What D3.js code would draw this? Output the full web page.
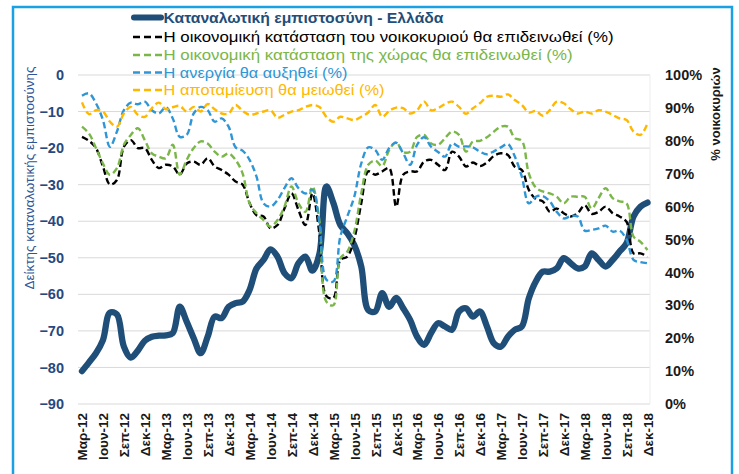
<!DOCTYPE html>
<html><head><meta charset="utf-8">
<script src="https://cdn.jsdelivr.net/npm/d3@7/dist/d3.min.js"></script>
<style>body{margin:0;background:#fff}svg{display:block}</style>
</head><body>
<svg id="chart" width="739" height="474"></svg>
<script>
// ---------- DATA ----------
const monthNames = ["Ιαν","Φεβ","Μαρ","Απρ","Μαϊ","Ιουν","Ιουλ","Αυγ","Σεπ","Οκτ","Νοε","Δεκ"];
const months = [];
for (let y = 12; y <= 18; y++) {
  for (let m = 0; m < 12; m++) {
    if (y === 12 && m < 2) continue;
    months.push(monthNames[m] + "-" + y);
  }
}
const tickLabels = months.filter((d, i) => i % 3 === 0);
const leftTicks = [0,-10,-20,-30,-40,-50,-60,-70,-80,-90];
const rightTicks = [0,10,20,30,40,50,60,70,80,90,100];

// Consumer confidence index (left axis)
const confidence = [-81,-78.6,-76.1,-72.5,-65,-65.5,-74.3,-77.3,-75.4,-72.7,-71.6,-71.3,-71.2,-70.6,-63.4,-67.5,-72,-76.1,-71.6,-66.1,-66.5,-63.4,-62.4,-62,-58.8,-52.9,-50.6,-47.7,
  -49.7,-54.2,-55.6,-51.5,-49.7,-53.5,-49,-30.5,-35,-41,-43.3,-46.5,-52.4,-64.3,-64.7,-59.7,-63.4,-61,-63.8,-67,-71.6,-73.8,-70.6,-67.9,-68.8,-69.7,-64.7,
  -63.8,-66.1,-64.7,-68.8,-73.4,-74.3,-71.6,-69.7,-68.8,-61.1,-56.5,-53.8,-53.8,-52.9,-50.1,-51.5,-52.9,-52.4,-48.8,-50.6,-52.4,-50.6,-48.3,-46,-38.7,-36,-34.9];
// % households (right axis)
const household = [81.2,80,77.8,72.2,66.7,68.1,78.2,80.2,77.8,77.8,74.2,71.7,72.7,72.2,69.7,73.1,73.7,72.7,74.7,72.2,71.1,69.7,67.6,66.7,61.1,57.4,57,53.4,
  54.4,59.4,64,59,54.4,64,51.9,32.8,32.2,43.8,44.8,50.3,61,70.7,69.7,70.7,71.7,60,69.7,70.7,70.7,73.7,74.2,72.7,71.1,76.7,75.2,
  72.2,73.4,72.3,73.4,75.4,76.2,75.7,72.1,71.1,65.1,62.3,61.6,58.4,59.4,58,57,58,60.4,57.8,58.4,60,58,57,55.4,45.8,45.8,44.8];
const country = [84.3,82.2,77.8,73.1,69.7,71.7,78.8,81.8,83.8,80.2,76.2,75.2,74.7,78.8,69.7,74.2,77.8,79.8,79.2,76.7,75.2,76.2,74.2,70.1,61,58,55.9,53.9,
  55.9,60,66.1,61,58.4,66.1,55.9,31.1,30,44.3,46.3,52.4,64,72.7,74,72.3,77.2,79.6,76.6,76.7,81.2,81.8,79.2,78.8,80.8,82.8,81.8,
  76.7,79.8,80,81.1,82.8,84.3,84.3,80.8,80,70.1,65.8,64.6,64,63,61,63,63,63,59.4,62.6,65.6,62.6,61.6,61,50.9,49.3,46.8];
const unemployment = [93.7,94.4,91.4,86.3,78.2,82.8,89.3,91.6,91.1,91.9,89.3,88.3,90.2,86.8,81.2,81.8,88.3,90.3,89.3,85.8,86.8,84.3,78,77,74.2,69.1,61,60,
  62,65.6,68.6,65.6,64,65.1,54.9,37.8,37.2,50.9,57,63,73.1,78,77.2,74.2,77.8,79.4,76.2,72.7,78.8,81.1,78.2,76.6,75.2,79.2,78.2,
  78.3,78,76.7,75.9,76.8,78,79,75.2,69.1,61,63,63.2,61.6,58.4,56.4,57.1,57,52.7,52.9,53.4,54.2,52.4,52.7,50,43.8,43.1,42.8];
const savings = [91.7,88.1,89.3,88.9,85.8,84.3,88.3,90.3,87.9,87.3,89.9,91.6,89.6,90.2,90.6,88.9,90.3,88.9,91.2,89.6,88.3,88.3,90.9,89.1,87.9,88.3,88.9,89.3,
  87,87.9,88.9,89.3,90.3,90.9,90.3,87.3,85.8,87.3,86.8,86.3,87.3,88.6,90.9,87.3,89.1,90.1,89.9,88.3,89.3,91.9,89.3,89.9,91.2,91.9,90.3,
  88.2,89.9,91.4,93.4,93.7,93.4,94.1,92.4,90.9,88.6,89.1,87.6,89.3,91.9,91.4,89.6,88.3,88.9,88.3,89.3,88.9,87.9,86.8,86.3,82.8,81.8,85.3];

const legendLabels = [
  "Καταναλωτική εμπιστοσύνη - Ελλάδα",
  "Η οικονομική κατάσταση του νοικοκυριού θα επιδεινωθεί (%)",
  "Η οικονομική κατάσταση της χώρας θα επιδεινωθεί (%)",
  "Η ανεργία θα αυξηθεί (%)",
  "Η αποταμίευση θα μειωθεί (%)"
];
const seriesColors = ["#1F4E79","#000000","#7AB648","#2E96D6","#FFB800"];
const leftTitle = "Δείκτης καταναλωτικής εμπιστοσύνης";
const rightTitle = "% νοικοκυριών";

// ---------- CHART ----------
const FONT = "'Liberation Sans', Arial, sans-serif";
const svg = d3.select("#chart").style("font-family", FONT);
const L = 78, R = 650, T = 75, B = 404;

svg.append("rect").attr("x",13).attr("y",7).attr("width",719).attr("height",480)
  .attr("fill","#fff").attr("stroke","#1AA0E4").attr("stroke-width",2.5);

const x = d3.scalePoint().domain(months).range([82, 647.5]);
const yL = d3.scaleLinear().domain([-90, 0]).range([B, T]);
const yR = d3.scaleLinear().domain([0, 100]).range([B, T]);

// gridlines
svg.append("g").selectAll("line").data(leftTicks).join("line")
  .attr("x1", L).attr("x2", R).attr("y1", d => yL(d)).attr("y2", d => yL(d))
  .attr("stroke", "#D9D9D9").attr("stroke-width", 1);
svg.append("line").attr("x1", R).attr("x2", R).attr("y1", T).attr("y2", B)
  .attr("stroke", "#EDEDED").attr("stroke-width", 1);

// left axis
const gL = svg.append("g").attr("transform", `translate(${L},0)`)
  .call(d3.axisLeft(yL).tickValues(leftTicks).tickSize(0).tickPadding(14));
gL.select(".domain").remove();
gL.selectAll("text").attr("fill", "#26487F").style("font-size", "14.5px")
  .style("font-weight", "bold").style("font-family", FONT);

// right axis
const gR = svg.append("g").attr("transform", `translate(${R},0)`)
  .call(d3.axisRight(yR).tickValues(rightTicks).tickFormat(d => d + "%").tickSize(0).tickPadding(15));
gR.select(".domain").remove();
gR.selectAll("text").attr("fill", "#1a1a1a").style("font-size", "14.5px")
  .style("font-weight", "bold").style("font-family", FONT);

// bottom axis
const gB = svg.append("g").attr("transform", `translate(0,${B})`)
  .call(d3.axisBottom(x).tickValues(tickLabels).tickSize(0));
gB.select(".domain").remove();
gB.selectAll("text").attr("transform", "rotate(-90)").attr("x", -9).attr("y", 0)
  .attr("dy", "0.36em").style("text-anchor", "end").attr("fill", "#1a1a1a")
  .style("font-size", "13.5px").style("font-weight", "bold").style("font-family", FONT);

// axis titles
svg.append("text").attr("transform", "translate(34,178) rotate(-90)")
  .attr("text-anchor", "middle").attr("fill", "#2F5597").style("font-size", "13.5px")
  .text(leftTitle);
svg.append("text").attr("transform", "translate(720,114) rotate(-90)")
  .attr("text-anchor", "middle").attr("fill", "#1a1a1a").style("font-size", "13px")
  .style("font-weight", "bold").text(rightTitle);

// lines
const lineL = d3.line().x((d, i) => x(months[i])).y(d => yL(d)).curve(d3.curveCatmullRom.alpha(0.5));
const lineR = d3.line().x((d, i) => x(months[i])).y(d => yR(d)).curve(d3.curveCatmullRom.alpha(0.5));

svg.append("path").datum(confidence).attr("d", lineL).attr("fill", "none")
  .attr("stroke", seriesColors[0]).attr("stroke-width", 6.3)
  .attr("stroke-linecap", "round").attr("stroke-linejoin", "round");

const dashed = [household, country, unemployment, savings];
dashed.forEach((s, k) => {
  svg.append("path").datum(s).attr("d", lineR).attr("fill", "none")
    .attr("stroke", seriesColors[k + 1]).attr("stroke-width", 2.4)
    .attr("stroke-dasharray", "6.5,3.5");
});

// legend
const legY = [17.5, 37, 55, 72.5, 90];
const legW = [280, 450, 409, 184, 221];
legendLabels.forEach((lab, k) => {
  const g = svg.append("g");
  if (k === 0) {
    g.append("line").attr("x1", 134).attr("x2", 161).attr("y1", legY[k]).attr("y2", legY[k])
      .attr("stroke", seriesColors[0]).attr("stroke-width", 6).attr("stroke-linecap", "round");
  } else {
    g.append("line").attr("x1", 133).attr("x2", 163).attr("y1", legY[k]).attr("y2", legY[k])
      .attr("stroke", seriesColors[k]).attr("stroke-width", 2.5).attr("stroke-dasharray", "7,4");
  }
  g.append("text").attr("x", 163.5).attr("y", legY[k]).attr("dy", "0.36em")
    .attr("fill", seriesColors[k]).style("font-size", "15px")
    .style("font-weight", k === 0 ? "bold" : "normal")
    .attr("textLength", legW[k]).attr("lengthAdjust", "spacingAndGlyphs")
    .text(lab);
});
</script>
</body></html>
